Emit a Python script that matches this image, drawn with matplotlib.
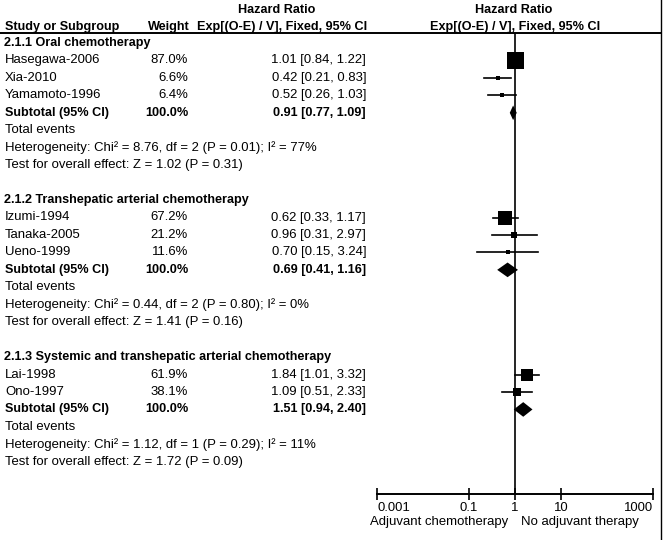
import numpy as np
import matplotlib
matplotlib.use('Agg')
import matplotlib.pyplot as plt
from matplotlib import transforms
from matplotlib.lines import Line2D

plt.rcParams['font.family'] = ['Liberation Sans', 'DejaVu Sans']

# data
groups = ['2.1.1 Oral chemotherapy',
          '2.1.2 Transhepatic arterial chemotherapy',
          '2.1.3 Systemic and transhepatic arterial chemotherapy']
studies = [['Hasegawa-2006', 'Xia-2010', 'Yamamoto-1996'],
           ['Izumi-1994', 'Tanaka-2005', 'Ueno-1999'],
           ['Lai-1998', 'Ono-1997']]
weights = [[87.0, 6.6, 6.4], [67.2, 21.2, 11.6], [61.9, 38.1]]
hr = [[1.01, 0.42, 0.52], [0.62, 0.96, 0.70], [1.84, 1.09]]
lo = [[0.84, 0.21, 0.26], [0.33, 0.31, 0.15], [1.01, 0.51]]
hi = [[1.22, 0.83, 1.03], [1.17, 2.97, 3.24], [3.32, 2.33]]
sub_hr = [0.91, 0.69, 1.51]
sub_lo = [0.77, 0.41, 0.94]
sub_hi = [1.09, 1.16, 2.40]
heterogeneity = ['Heterogeneity: Chi\u00b2 = 8.76, df = 2 (P = 0.01); I\u00b2 = 77%',
                 'Heterogeneity: Chi\u00b2 = 0.44, df = 2 (P = 0.80); I\u00b2 = 0%',
                 'Heterogeneity: Chi\u00b2 = 1.12, df = 1 (P = 0.29); I\u00b2 = 11%']
overall = ['Test for overall effect: Z = 1.02 (P = 0.31)',
           'Test for overall effect: Z = 1.41 (P = 0.16)',
           'Test for overall effect: Z = 1.72 (P = 0.09)']
xticks = [0.001, 0.1, 1, 10, 1000]
xticklabels = ['0.001', '0.1', '1', '10', '1000']

W, H = 665, 540
fig = plt.figure(figsize=(W / 100, H / 100), dpi=100)

fs = 9.45  # regular text
fb = 9.1   # bold text

# forest panel, pixel geometry of the reference
x0, x1 = 377, 653
ytop, ybot = 33, 494
row0, step = 43, 17.45
ax = fig.add_axes([x0 / W, (H - ybot) / H, (x1 - x0) / W, (ybot - ytop) / H])
ax.set_xscale('log')
ax.set_xlim(0.001, 1000)
ax.set_ylim((ybot - row0) / step, (ytop - row0) / step)
for s in ['top', 'left', 'right']:
    ax.spines[s].set_visible(False)
ax.spines['bottom'].set_linewidth(1.4)
ax.set_yticks([])
ax.set_xticks(xticks)
ax.set_xticklabels(xticklabels, fontsize=fs)
ax.minorticks_off()
ax.tick_params(axis='x', direction='inout', length=8, width=1.2, pad=2)
labs = ax.get_xticklabels()
labs[0].set_ha('left')
labs[-1].set_ha('right')
ax.axvline(1, color='black', lw=1.2)

tr = transforms.blended_transform_factory(fig.transFigure, ax.transData)

def txt(x, k, s, bold=False, **kw):
    fig.text(x / W, k, s, transform=tr, va='center', clip_on=False,
             fontsize=fb if bold else fs, weight='bold' if bold else 'normal', **kw)

k = 0
for g in range(len(groups)):
    txt(4, k, groups[g], bold=True)
    k += 1
    for i in range(len(studies[g])):
        w = weights[g][i]
        txt(5, k, studies[g][i])
        txt(188, k, '%.1f%%' % w, ha='right')
        txt(366, k, '%.2f [%.2f, %.2f]' % (hr[g][i], lo[g][i], hi[g][i]), ha='right')
        ax.plot([lo[g][i], hi[g][i]], [k, k], color='black', lw=1.2, clip_on=False)
        side = 2 + 15 * w / 87.0
        ax.plot(hr[g][i], k, marker='s', color='black', ms=side * 0.72, mew=0,
                clip_on=False)
        k += 1
    txt(5, k, 'Subtotal (95% CI)', bold=True)
    txt(188, k, '100.0%', ha='right', bold=True)
    txt(366, k, '%.2f [%.2f, %.2f]' % (sub_hr[g], sub_lo[g], sub_hi[g]),
        ha='right', bold=True)
    dh = 0.42
    ax.fill([sub_lo[g], sub_hr[g], sub_hi[g], sub_hr[g]], [k, k - dh, k, k + dh],
            color='black', lw=0, clip_on=False)
    k += 1
    txt(5, k, 'Total events')
    k += 1
    txt(5, k, heterogeneity[g])
    k += 1
    txt(5, k, overall[g])
    k += 2

# header
hdr = dict(va='center', fontsize=fb, weight='bold')
fig.text(277 / W, 1 - 10 / H, 'Hazard Ratio', ha='center', **hdr)
fig.text(282 / W, 1 - 27 / H, 'Exp[(O-E) / V], Fixed, 95% CI', ha='center', **hdr)
fig.text(514 / W, 1 - 10 / H, 'Hazard Ratio', ha='center', **hdr)
fig.text(515 / W, 1 - 27 / H, 'Exp[(O-E) / V], Fixed, 95% CI', ha='center', **hdr)
fig.text(5 / W, 1 - 27 / H, 'Study or Subgroup', **hdr)
fig.text(190 / W, 1 - 27 / H, 'Weight', ha='right', **hdr)
fig.add_artist(Line2D([0, 661 / W], [1 - ytop / H] * 2, color='black', lw=1.4,
                      transform=fig.transFigure))
fig.add_artist(Line2D([661 / W] * 2, [0, 1], color='black', lw=1.0,
                      transform=fig.transFigure))

# direction labels
fig.text(508 / W, 1 - 522 / H, 'Adjuvant chemotherapy', ha='right', va='center',
         fontsize=fs)
fig.text(521 / W, 1 - 522 / H, 'No adjuvant therapy', ha='left', va='center',
         fontsize=fs)

fig.savefig('out.png', dpi=100)
